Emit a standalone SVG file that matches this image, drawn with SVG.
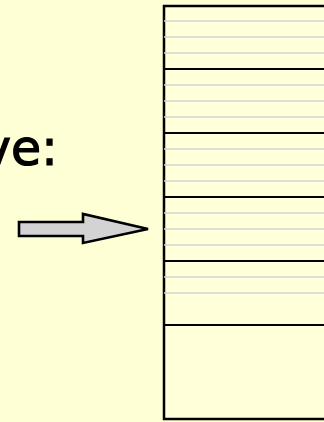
<svg xmlns="http://www.w3.org/2000/svg" width="324" height="422" viewBox="0 0 324 422">
<style>
.div{stroke:#000;stroke-width:2}
.sub{stroke:#D3D3D3;stroke-width:1.6}
.lbl{font-family:"Comic Sans MS","DejaVu Sans",sans-serif;font-size:49px;fill:#000;stroke:#000;stroke-width:1.2}
</style>
<rect width="324" height="422" fill="#FFFFD5"/>
<text class="lbl" x="-18" y="165">ve:</text>
<g id="arrow">
<polygon points="19,222 83,222 83,214 148,229 83,243 83,236 19,236" fill="#D3D3D3" stroke="#000" stroke-width="2.6" stroke-linejoin="miter"/>
</g>
<g id="stack">
<rect x="164" y="6" width="170" height="413" fill="#FFFFD9" stroke="#000" stroke-width="2.5"/>
<g class="sub">
<line x1="164" y1="21" x2="324" y2="21"/><line x1="164" y1="37" x2="324" y2="37"/><line x1="164" y1="53" x2="324" y2="53"/>
<line x1="164" y1="85" x2="324" y2="85"/><line x1="164" y1="101" x2="324" y2="101"/><line x1="164" y1="117" x2="324" y2="117"/>
<line x1="164" y1="149" x2="324" y2="149"/><line x1="164" y1="165" x2="324" y2="165"/><line x1="164" y1="181" x2="324" y2="181"/>
<line x1="164" y1="213" x2="324" y2="213"/><line x1="164" y1="229" x2="324" y2="229"/><line x1="164" y1="245" x2="324" y2="245"/>
<line x1="164" y1="277" x2="324" y2="277"/><line x1="164" y1="293" x2="324" y2="293"/>
</g>
<g class="div">
<line x1="164" y1="69" x2="324" y2="69"/>
<line x1="164" y1="133" x2="324" y2="133"/>
<line x1="164" y1="197" x2="324" y2="197"/>
<line x1="164" y1="261" x2="324" y2="261"/>
<line x1="164" y1="325" x2="324" y2="325"/>
</g>
</g>
</svg>
